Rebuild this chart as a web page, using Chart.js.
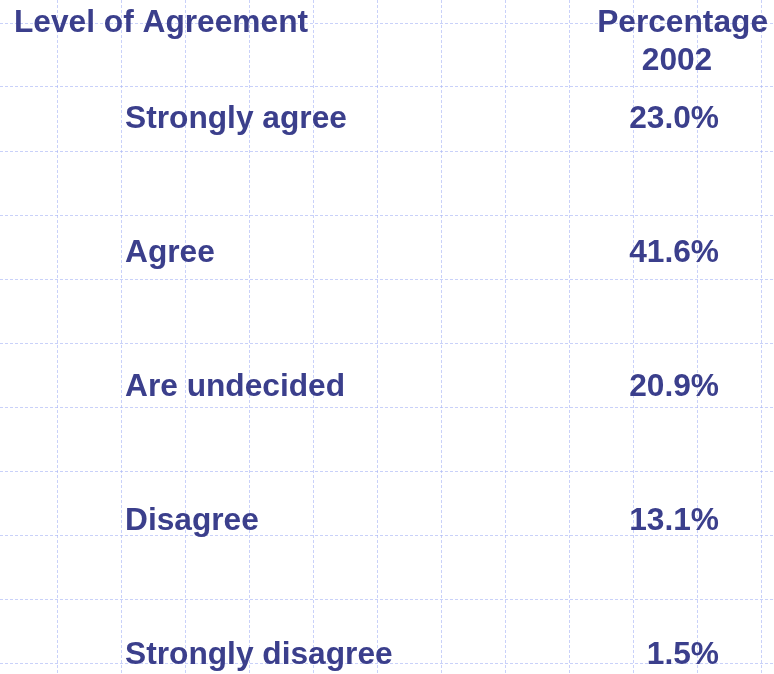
<!DOCTYPE html>
<html>
<head>
<meta charset="utf-8">
<title>Level of Agreement</title>
<script src="https://cdn.jsdelivr.net/npm/chart.js@4/dist/chart.umd.min.js"></script>
<style>
    html, body {
        margin: 0;
        padding: 0;
        background: #ffffff;
    }
    #chart {
        display: block;
    }
</style>
</head>
<body>
<canvas id="chart" width="774" height="674"></canvas>
<script>
// 表格数据
const levels = ['Strongly agree', 'Agree', 'Are undecided', 'Disagree', 'Strongly disagree'];
const percentages2002 = [23.0, 41.6, 20.9, 13.1, 1.5];
const headerLeft = 'Level of Agreement';
const headerRight = ['Percentage', '2002'];

// 背景方格线的位置
const gridXs = Array.from({length: 12}, (_, i) => 57 + i * 64);
const gridYs = Array.from({length: 11}, (_, i) => 23 + i * 64);

const TEXT_COLOR = '#3b3f8c';
const FONT = 'bold 31.7px "Liberation Sans", Arial, sans-serif';

// 把每个单元格的文字画在数据点的位置上
const tableTextPlugin = {
    id: 'tableText',
    afterDatasetsDraw(chart) {
        const ctx = chart.ctx;
        ctx.save();
        ctx.fillStyle = TEXT_COLOR;
        ctx.font = FONT;
        ctx.textBaseline = 'alphabetic';

        // 表头
        ctx.textAlign = 'left';
        ctx.fillText(headerLeft, 14, 32);
        ctx.textAlign = 'right';
        ctx.fillText(headerRight[0], 768, 32);
        ctx.textAlign = 'center';
        ctx.fillText(headerRight[1], 677, 70);

        // 第一列：同意程度
        const labelMeta = chart.getDatasetMeta(0);
        ctx.textAlign = 'left';
        labelMeta.data.forEach((pt, i) => {
            ctx.fillText(levels[i], pt.x, pt.y);
        });

        // 第二列：百分比
        const valueMeta = chart.getDatasetMeta(1);
        ctx.textAlign = 'right';
        valueMeta.data.forEach((pt, i) => {
            ctx.fillText(percentages2002[i].toFixed(1) + '%', pt.x, pt.y);
        });
        ctx.restore();
    }
};

// 背景方格的坐标轴设置
function gridAxis(position, max, values, reverse) {
    return {
        type: 'linear',
        position: position,
        reverse: reverse,
        min: 0,
        max: max,
        afterBuildTicks: scale => {
            scale.ticks = values.map(v => ({value: v}));
        },
        ticks: {display: false},
        grid: {
            color: 'rgba(165, 178, 245, 0.6)',
            lineWidth: 1,
            drawTicks: false
        },
        border: {display: false, dash: [3, 2]}
    };
}

function initializeChart() {
    new Chart(document.getElementById('chart'), {
        type: 'scatter',
        data: {
            datasets: [{
                label: headerLeft,
                data: levels.map((_, i) => ({x: 0, y: i})),
                pointRadius: 0
            }, {
                label: headerRight.join(' '),
                data: percentages2002.map((_, i) => ({x: 1, y: i})),
                pointRadius: 0
            }]
        },
        options: {
            responsive: false,
            animation: false,
            layout: {padding: 0},
            plugins: {
                legend: {display: false},
                tooltip: {enabled: false}
            },
            scales: {
                // 列：0 -> 文字左边, 1 -> 百分比右边
                x: {
                    type: 'linear',
                    min: -125 / 594,
                    max: (774 - 125) / 594,
                    display: false
                },
                // 行：每行基线间隔 134px
                y: {
                    type: 'linear',
                    reverse: true,
                    min: -128 / 134,
                    max: (674 - 128) / 134,
                    display: false
                },
                gx: gridAxis('bottom', 774, gridXs, false),
                gy: gridAxis('left', 674, gridYs, true)
            }
        },
        plugins: [tableTextPlugin]
    });
}

document.addEventListener('DOMContentLoaded', initializeChart);
</script>
</body>
</html>
